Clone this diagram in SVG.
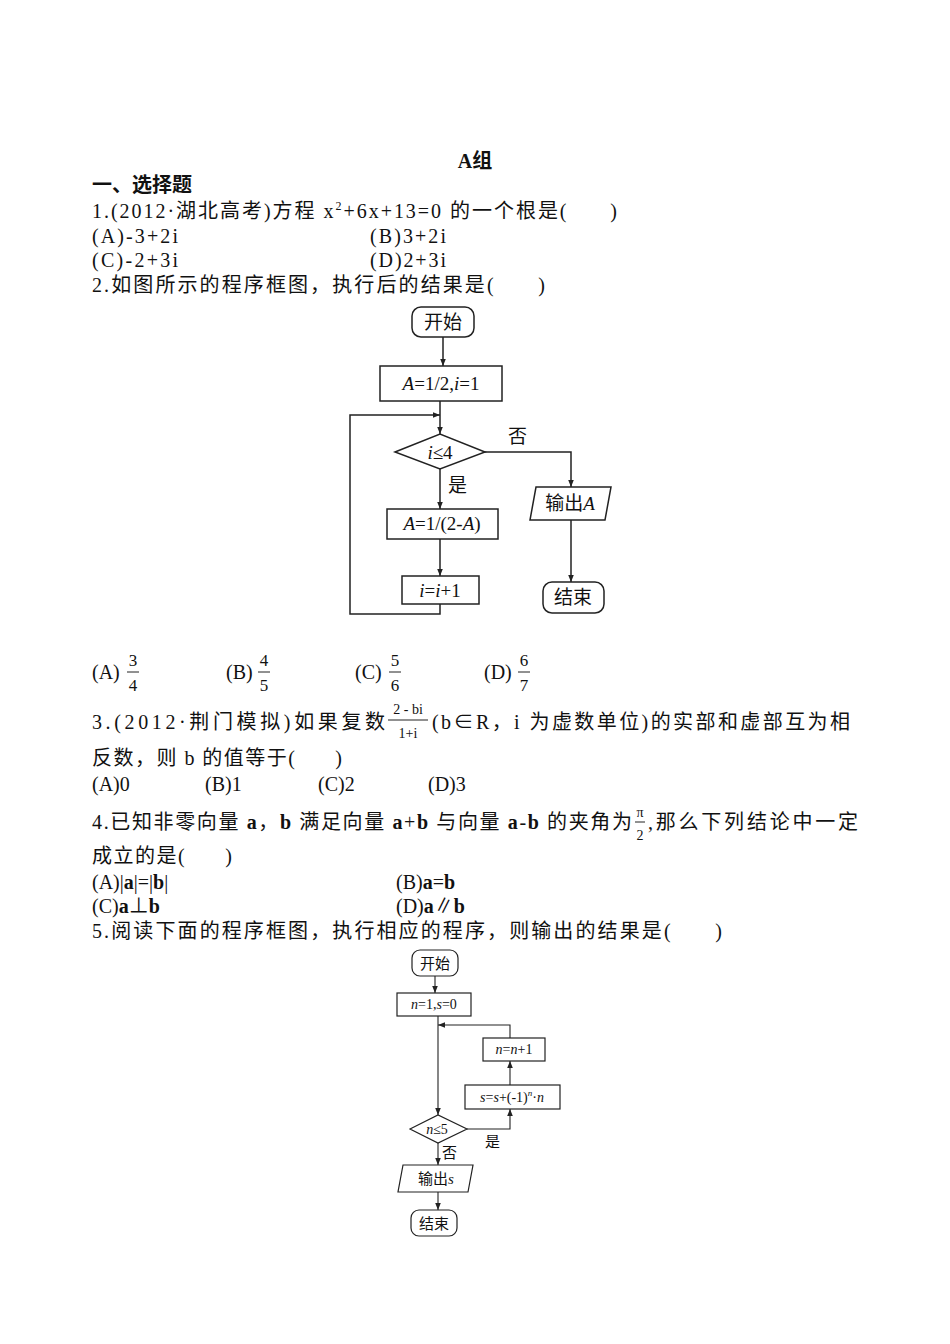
<svg xmlns="http://www.w3.org/2000/svg" width="950" height="1344" viewBox="0 0 950 1344">
<defs>
<marker id="ar" viewBox="0 0 10 10" refX="10" refY="5" markerWidth="7" markerHeight="7" orient="auto" markerUnits="userSpaceOnUse"><path d="M0,1 L10,5 L0,9 Z" fill="#222"/></marker>
</defs>
<style>
text{font-family:"Liberation Serif","Noto Sans CJK SC",serif;fill:#111}
.t{font-size:20px}
.b{font-weight:bold}
.s{font-size:15px}
.fr{font-size:17px}
.n{fill:#fff;stroke:#222;stroke-width:1.5}
.n2{fill:#fff;stroke:#222;stroke-width:1.2}
.c{fill:none;stroke:#222;stroke-width:1.5}
.c2{fill:none;stroke:#222;stroke-width:1.1}
.fl{font-size:19px}
.f2{font-size:14px}
.i{font-style:italic}
</style>
<rect width="950" height="1344" fill="#fff"/>
<text class="t b" x="475" y="168" text-anchor="middle">A组</text>
<text class="t b" x="92" y="192">一、选择题</text>
<text class="t" x="92" y="218" textLength="525">1.(2012·湖北高考)方程 x<tspan font-size="12" dy="-8">2</tspan><tspan dy="8">+6x+13=0 的一个根是(&#160;&#160;&#160;&#160;&#160;&#160;)</tspan></text>
<text class="t" x="92" y="243" textLength="86">(A)-3+2i</text>
<text class="t" x="370" y="243" textLength="76">(B)3+2i</text>
<text class="t" x="92" y="267" textLength="86">(C)-2+3i</text>
<text class="t" x="370" y="267" textLength="76">(D)2+3i</text>
<text class="t" x="92" y="292" textLength="453">2.如图所示的程序框图，执行后的结果是(&#160;&#160;&#160;&#160;&#160;&#160;)</text>

<g id="conn1">
<line class="c" x1="443" y1="337" x2="443" y2="366" marker-end="url(#ar)"/>
<line class="c" x1="440" y1="401" x2="440" y2="434" marker-end="url(#ar)"/>
<line class="c" x1="440" y1="469" x2="440" y2="509" marker-end="url(#ar)"/>
<line class="c" x1="440" y1="539" x2="440" y2="576" marker-end="url(#ar)"/>
<polyline class="c" points="440,604 440,614 350,614 350,415 440,415" marker-end="url(#ar)"/>
<polyline class="c" points="483,452 571,452 571,487" marker-end="url(#ar)"/>
<line class="c" x1="571" y1="520" x2="571" y2="582" marker-end="url(#ar)"/>
<text class="fl" x="508" y="443">否</text>
<text class="fl" x="448" y="492">是</text>
</g>
<g id="start1"><rect class="n" x="412" y="307" width="62" height="30" rx="9"/><text class="fl" x="443" y="329" text-anchor="middle">开始</text></g>
<g id="init1"><rect class="n" x="380" y="366" width="122" height="35"/><text class="fl" x="441" y="390" text-anchor="middle"><tspan class="i">A</tspan>=1/2,<tspan class="i">i</tspan>=1</text></g>
<g id="cond1"><polygon class="n" points="395,452 440,434 485,452 440,469"/><text class="fl" x="440" y="459" text-anchor="middle"><tspan class="i">i</tspan>≤4</text></g>
<g id="step1"><rect class="n" x="387" y="509" width="111" height="30"/><text class="fl" x="442" y="530" text-anchor="middle"><tspan class="i">A</tspan>=1/(2-<tspan class="i">A</tspan>)</text></g>
<g id="inc1"><rect class="n" x="402" y="576" width="77" height="28"/><text class="fl" x="440" y="597" text-anchor="middle"><tspan class="i">i</tspan>=<tspan class="i">i</tspan>+1</text></g>
<g id="out1"><polygon class="n" points="536,487 611,487 605,520 530,520"/><text class="fl" x="570" y="510" text-anchor="middle">输出<tspan class="i">A</tspan></text></g>
<g id="end1"><rect class="n" x="543" y="582" width="61" height="31" rx="9"/><text class="fl" x="573" y="604" text-anchor="middle">结束</text></g>

<g id="ans2">
<text class="t" x="92" y="679">(A)</text>
<text class="fr" x="133" y="666" text-anchor="middle">3</text><line x1="127" y1="672" x2="139" y2="672" stroke="#222"/><text class="fr" x="133" y="691" text-anchor="middle">4</text>
<text class="t" x="226" y="679">(B)</text>
<text class="fr" x="264" y="666" text-anchor="middle">4</text><line x1="258" y1="672" x2="270" y2="672" stroke="#222"/><text class="fr" x="264" y="691" text-anchor="middle">5</text>
<text class="t" x="355" y="679">(C)</text>
<text class="fr" x="395" y="666" text-anchor="middle">5</text><line x1="389" y1="672" x2="401" y2="672" stroke="#222"/><text class="fr" x="395" y="691" text-anchor="middle">6</text>
<text class="t" x="484" y="679">(D)</text>
<text class="fr" x="524" y="666" text-anchor="middle">6</text><line x1="518" y1="672" x2="530" y2="672" stroke="#222"/><text class="fr" x="524" y="691" text-anchor="middle">7</text>
</g>

<text class="t" x="92" y="729" textLength="293">3.(2012·荆门模拟)如果复数</text>
<text class="f2" x="408" y="714" text-anchor="middle">2 - bi</text><line x1="388" y1="720" x2="428" y2="720" stroke="#222"/><text class="f2" x="408" y="738" text-anchor="middle">1+i</text>
<text class="t" x="432" y="729" textLength="418">(b∈R，i 为虚数单位)的实部和虚部互为相</text>
<text class="t" x="92" y="765" textLength="250">反数，则 b 的值等于(&#160;&#160;&#160;&#160;&#160;&#160;)</text>
<text class="t" x="92" y="791">(A)0</text>
<text class="t" x="205" y="791">(B)1</text>
<text class="t" x="318" y="791">(C)2</text>
<text class="t" x="428" y="791">(D)3</text>
<text class="t" x="92" y="829" textLength="540">4.已知非零向量 <tspan class="b">a</tspan>，<tspan class="b">b</tspan> 满足向量 <tspan class="b">a</tspan>+<tspan class="b">b</tspan> 与向量 <tspan class="b">a</tspan>-<tspan class="b">b</tspan> 的夹角为</text>
<text class="f2" x="640" y="817" text-anchor="middle">π</text><line x1="635" y1="822" x2="645" y2="822" stroke="#222"/><text class="f2" x="640" y="840" text-anchor="middle">2</text>
<text class="t" x="648" y="829" textLength="210">,那么下列结论中一定</text>
<text class="t" x="92" y="863" textLength="140">成立的是(&#160;&#160;&#160;&#160;&#160;&#160;)</text>
<text class="t" x="92" y="889">(A)|<tspan class="b">a</tspan>|=|<tspan class="b">b</tspan>|</text>
<text class="t" x="396" y="889">(B)<tspan class="b">a</tspan>=<tspan class="b">b</tspan></text>
<text class="t" x="92" y="913">(C)<tspan class="b">a</tspan>⊥<tspan class="b">b</tspan></text>
<text class="t" x="396" y="913">(D)<tspan class="b">a</tspan>∥<tspan class="b">b</tspan></text>
<text class="t" x="92" y="938" textLength="630">5.阅读下面的程序框图，执行相应的程序，则输出的结果是(&#160;&#160;&#160;&#160;&#160;&#160;)</text>

<g id="conn2">
<line class="c2" x1="435" y1="976" x2="435" y2="993" marker-end="url(#ar)"/>
<line class="c2" x1="438" y1="1016" x2="438" y2="1115" marker-end="url(#ar)"/>
<polyline class="c2" points="510,1038 510,1025 438,1025" marker-end="url(#ar)"/>
<line class="c2" x1="510" y1="1085" x2="510" y2="1061" marker-end="url(#ar)"/>
<polyline class="c2" points="467,1129 510,1129 510,1109" marker-end="url(#ar)"/>
<line class="c2" x1="438" y1="1143" x2="438" y2="1165" marker-end="url(#ar)"/>
<line class="c2" x1="438" y1="1192" x2="438" y2="1210" marker-end="url(#ar)"/>
<text class="s" x="485" y="1147">是</text>
<text class="s" x="442" y="1158">否</text>
</g>
<g id="start2"><rect class="n2" x="412" y="950" width="46" height="26" rx="8"/><text class="s" x="435" y="969" text-anchor="middle">开始</text></g>
<g id="init2"><rect class="n2" x="397" y="993" width="74" height="23"/><text class="f2" x="434" y="1009" text-anchor="middle"><tspan class="i">n</tspan>=1,<tspan class="i">s</tspan>=0</text></g>
<g id="inc2"><rect class="n2" x="483" y="1038" width="62" height="23"/><text class="f2" x="514" y="1054" text-anchor="middle"><tspan class="i">n</tspan>=<tspan class="i">n</tspan>+1</text></g>
<g id="step2"><rect class="n2" x="465" y="1085" width="95" height="24"/><text class="f2" x="512" y="1102" text-anchor="middle"><tspan class="i">s</tspan>=<tspan class="i">s</tspan>+(-1)<tspan font-size="9" dy="-6" class="i">n</tspan><tspan dy="6">·</tspan><tspan class="i">n</tspan></text></g>
<g id="cond2"><polygon class="n2" points="410,1129 438,1115 467,1129 438,1143"/><text class="f2" x="437" y="1134" text-anchor="middle"><tspan class="i">n</tspan>≤5</text></g>
<g id="out2"><polygon class="n2" points="403,1165 473,1165 468,1192 398,1192"/><text class="s" x="436" y="1184" text-anchor="middle">输出<tspan class="i">s</tspan></text></g>
<g id="end2"><rect class="n2" x="411" y="1210" width="46" height="26" rx="8"/><text class="s" x="434" y="1229" text-anchor="middle">结束</text></g>
</svg>
